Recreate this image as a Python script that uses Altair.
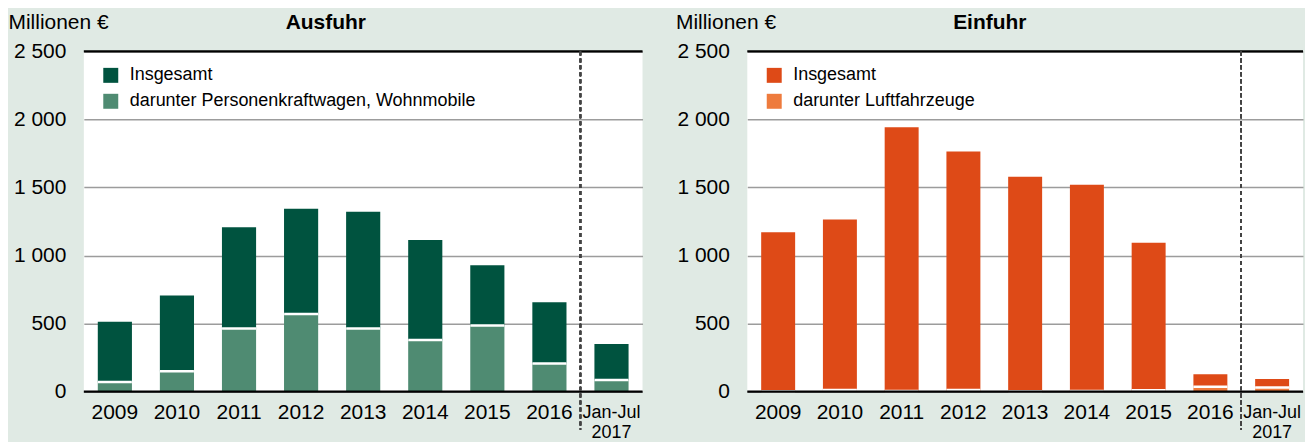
import altair as alt
import pandas as pd

jahre = ["2009", "2010", "2011", "2012", "2013", "2014", "2015", "2016", "Jan-Jul 2017"]
ausfuhr_insgesamt = [514, 707, 1207, 1343, 1321, 1114, 929, 657, 350]
ausfuhr_pkw = [71, 150, 464, 571, 464, 379, 486, 207, 86]
einfuhr_insgesamt = [1171, 1264, 1943, 1764, 1579, 1521, 1093, 128, 93]
einfuhr_luft = [2, 12, 4, 12, 3, 4, 10, 35, 30]
y_ticks = [0, 500, 1000, 1500, 2000, 2500]
rahmen = [0, 2500]

NB = "\u00a0"
H = 341
FONT = "Liberation Sans"


def panel(title, total, sub, name_total, name_sub, c_dark, c_light, width, title_x):
    long_rows = []
    for j, t, s in zip(jahre, total, sub):
        long_rows.append({"Jahr": j, "Serie": name_total, "oben": t, "unten": s})
        long_rows.append({"Jahr": j, "Serie": name_sub, "oben": s, "unten": 0})
    df_long = pd.DataFrame(long_rows)
    df_wide = pd.DataFrame({"Jahr": jahre, "total": total, "sub": sub})
    df_rahmen = pd.DataFrame({"v": rahmen})

    xscale = alt.Scale(domain=jahre, paddingInner=0.45, paddingOuter=0.225)
    xaxis = alt.Axis(
        title=None,
        labelAngle=0,
        labelExpr="datum.value == 'Jan-Jul 2017' ? ['Jan-Jul', '2017'] : datum.label",
        labelFontSize={"condition": {"test": "datum.value == 'Jan-Jul 2017'", "value": 18}, "value": 21},
        labelBaseline="middle",
        labelPadding=21,
        labelLineHeight=20,
        labelColor="black",
        ticks=False,
        domain=False,
        grid=False,
    )
    yscale = alt.Scale(domain=[0, 2500], nice=False)
    yaxis = alt.Axis(
        values=y_ticks,
        title="Millionen €",
        titleAngle=0,
        titleX=title_x,
        titleY=-23,
        titleAlign="left",
        titleBaseline="alphabetic",
        titleFontSize=21,
        titleFontWeight="normal",
        titleColor="black",
        labelFontSize=21,
        labelPadding=18,
        labelColor="black",
        labelExpr="replace(format(datum.value, ','), ',', ' ')",
        ticks=False,
        domain=False,
        grid=True,
        gridColor="#9c9c9c",
        gridWidth=1.5,
    )
    cscale = alt.Scale(domain=[name_total, name_sub], range=[c_dark, c_light])
    legend = alt.Legend(
        title=None,
        orient="none",
        legendX=18,
        legendY=15,
        symbolType="square",
        symbolSize=225,
        symbolStrokeWidth=0,
        labelFontSize=18,
        labelColor="black",
        labelOffset=10,
        labelLimit=700,
        rowPadding=8,
    )

    bars = alt.Chart(df_long).mark_bar().encode(
        x=alt.X("Jahr:N", scale=xscale, axis=xaxis),
        y=alt.Y("oben:Q", scale=yscale, axis=yaxis),
        y2="unten:Q",
        color=alt.Color("Serie:N", scale=cscale, legend=legend),
    )
    sep = alt.Chart(df_wide).mark_tick(color="white", thickness=2.5, size=34, opacity=1).encode(
        x=alt.X("Jahr:N", scale=xscale, axis=xaxis),
        y=alt.Y("sub:Q", scale=yscale, axis=yaxis),
    )
    frame = alt.Chart(df_rahmen).mark_rule(color="black", strokeWidth=2.2).encode(
        y=alt.Y("v:Q", scale=yscale, axis=yaxis),
    )
    dash = alt.Chart(df_wide).mark_rule(
        color="#444444", strokeWidth=1.5, strokeDash=[4, 3], xOffset=-14
    ).encode(
        x=alt.XDatum("Jan-Jul 2017", scale=xscale, axis=xaxis, bandPosition=0),
        y=alt.value(0),
        y2=alt.value(H + 38),
    )
    return alt.layer(bars, sep, frame, dash).properties(
        width=width,
        height=H,
        title=alt.TitleParams(
            title, fontSize=21, fontWeight="bold", anchor="middle", offset=-22, frame="bounds", color="black"
        ),
    )


left = panel(
    "Ausfuhr", ausfuhr_insgesamt, ausfuhr_pkw,
    "Insgesamt", NB + NB + "darunter Personenkraftwagen, Wohnmobile",
    "#00533f", "#4f8b72", 560, -76,
)
right = panel(
    "Einfuhr", einfuhr_insgesamt, einfuhr_luft,
    "Insgesamt", NB + NB + "darunter Luftfahrzeuge",
    "#de4a17", "#ee7b3d", 557, -72,
)

chart = (
    alt.hconcat(left, right, spacing=31)
    .resolve_scale(color="independent")
    .properties(padding={"left": 0, "right": 0, "top": 3, "bottom": 0})
    .configure(background="#e0eae4", font=FONT)
    .configure_view(stroke=None, fill="white")
)

chart.save("out.html", embed_options={"renderer": "svg", "actions": False})
